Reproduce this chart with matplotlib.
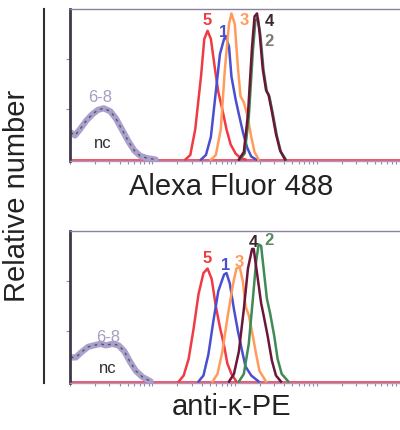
import matplotlib
matplotlib.use("Agg")
import matplotlib.pyplot as plt
from matplotlib.lines import Line2D
import numpy as np

plt.rcParams['font.family'] = ['Liberation Sans', 'DejaVu Sans']

# log10 fluorescence / relative number (fraction of panel height)
# --- Alexa Fluor 488 panel ---
a_red_x = [1.40, 1.46, 1.52, 1.59, 1.63, 1.67, 1.71, 1.76, 1.80, 1.85, 1.90, 1.95, 2.01, 2.07, 2.13]
a_red_y = [0, 0.03, 0.2, 0.55, 0.8, 0.855, 0.8, 0.6, 0.45, 0.33, 0.2, 0.1, 0.04, 0.01, 0]
a_blue_x = [1.59, 1.65, 1.71, 1.77, 1.82, 1.87, 1.89, 1.93, 1.96, 2.01, 2.05, 2.10, 2.15, 2.20, 2.26]
a_blue_y = [0, 0.03, 0.15, 0.45, 0.7, 0.8, 0.82, 0.75, 0.55, 0.4, 0.3, 0.18, 0.08, 0.02, 0]
a_orange_x = [1.71, 1.77, 1.83, 1.88, 1.93, 1.96, 2.00, 2.04, 2.07, 2.11, 2.15, 2.20, 2.24, 2.29]
a_orange_y = [0, 0.03, 0.2, 0.6, 0.9, 0.97, 0.9, 0.6, 0.42, 0.38, 0.3, 0.15, 0.05, 0]
a_maroon_x = [2.05, 2.11, 2.16, 2.21, 2.24, 2.27, 2.30, 2.34, 2.38, 2.41, 2.45, 2.50, 2.55, 2.61]
a_maroon_y = [0, 0.05, 0.3, 0.75, 0.95, 0.97, 0.85, 0.6, 0.46, 0.43, 0.32, 0.17, 0.06, 0]
a_green_x = [2.06, 2.12, 2.17, 2.22, 2.25, 2.28, 2.31, 2.35, 2.39, 2.42, 2.46, 2.51, 2.56, 2.62]
a_green_y = [0, 0.04, 0.28, 0.72, 0.92, 0.94, 0.83, 0.59, 0.45, 0.42, 0.31, 0.16, 0.05, 0]
a_nc_x = [0.01, 0.06, 0.12, 0.20, 0.27, 0.34, 0.41, 0.49, 0.56, 0.63, 0.71, 0.78, 0.85, 0.93, 1.04]
a_nc_y = [0.18, 0.16, 0.2, 0.26, 0.3, 0.33, 0.34, 0.32, 0.27, 0.2, 0.12, 0.06, 0.025, 0.01, 0]

# --- anti-kappa-PE panel ---
k_red_x = [1.32, 1.38, 1.44, 1.50, 1.56, 1.62, 1.67, 1.72, 1.77, 1.82, 1.87, 1.91, 1.96, 2.02]
k_red_y = [0, 0.04, 0.15, 0.35, 0.58, 0.72, 0.75, 0.68, 0.5, 0.36, 0.24, 0.12, 0.05, 0]
k_blue_x = [1.56, 1.62, 1.68, 1.74, 1.80, 1.87, 1.90, 1.94, 1.99, 2.04, 2.09, 2.13, 2.20, 2.29]
k_blue_y = [0, 0.04, 0.18, 0.4, 0.6, 0.71, 0.72, 0.65, 0.48, 0.33, 0.2, 0.1, 0.04, 0]
k_orange_x = [1.73, 1.79, 1.85, 1.91, 1.98, 2.02, 2.06, 2.10, 2.13, 2.17, 2.21, 2.26, 2.30, 2.38]
k_orange_y = [0, 0.05, 0.2, 0.42, 0.65, 0.75, 0.76, 0.66, 0.5, 0.44, 0.33, 0.18, 0.07, 0]
k_maroon_x = [1.93, 1.99, 2.05, 2.11, 2.16, 2.21, 2.23, 2.27, 2.32, 2.35, 2.40, 2.45, 2.50, 2.56]
k_maroon_y = [0, 0.05, 0.2, 0.48, 0.75, 0.88, 0.88, 0.72, 0.52, 0.44, 0.3, 0.14, 0.04, 0]
k_green_x = [2.05, 2.11, 2.17, 2.22, 2.26, 2.29, 2.32, 2.35, 2.39, 2.43, 2.48, 2.52, 2.57, 2.65]
k_green_y = [0, 0.05, 0.25, 0.55, 0.8, 0.91, 0.9, 0.75, 0.55, 0.45, 0.3, 0.15, 0.05, 0]
k_nc_x = [0.01, 0.07, 0.15, 0.22, 0.29, 0.37, 0.44, 0.51, 0.59, 0.66, 0.73, 0.80, 0.88, 0.98]
k_nc_y = [0.16, 0.16, 0.2, 0.23, 0.24, 0.25, 0.24, 0.25, 0.24, 0.2, 0.13, 0.07, 0.03, 0]

labels = ["5", "1", "3", "4", "2"]
a_lab_xy = [(1.67, 0.93), (1.87, 0.85), (2.11, 0.93), (2.42, 0.92), (2.42, 0.79)]
k_lab_xy = [(1.67, 0.82), (1.89, 0.78), (2.06, 0.80), (2.22, 0.93), (2.42, 0.94)]

red, blue, orange, maroon, green = '#f03a44', '#4a4fd0', '#ff9c5c', '#6a1838', '#3f8a55'
lav = '#aaa0cc'

fig = plt.figure(figsize=(4.0, 4.31), dpi=100)
ax1 = fig.add_axes([0.175, 0.624, 0.83, 0.353])
ax2 = fig.add_axes([0.175, 0.109, 0.83, 0.353])


def panel(ax, nc_x, nc_y, curves, lab_xy, lab_colors, nc_lab, xlabel, xlabel_y):
    # baseline runs across the whole axis
    ax.plot([0, 4.05], [0, 0], color=red, lw=1.2, zorder=1)
    ax.plot(nc_x, nc_y, color=lav, lw=4.5, solid_capstyle='round', zorder=2)
    ax.plot(nc_x, nc_y, color='#3a3040', lw=1.0, dashes=(2, 3), alpha=0.7, zorder=3)
    for (x, y, c) in curves:
        ax.plot(x, y, color=c, lw=1.8, zorder=4, solid_joinstyle='round')
    for t, (lx, ly), c in zip(labels, lab_xy, lab_colors):
        ax.text(lx, ly, t, color=c, fontsize=12, ha='center', va='center', fontweight='bold')
    ax.text(nc_lab[0][0], nc_lab[0][1], "6-8", color='#a89cc0', fontsize=12, ha='center', va='center')
    ax.text(nc_lab[1][0], nc_lab[1][1], "nc", color='#303030', fontsize=12, ha='center', va='center')
    ax.set_xlim(0, 4.03)
    ax.set_ylim(-0.01, 1.0)
    for s in ['right']:
        ax.spines[s].set_visible(False)
    ax.spines['left'].set_color('#403848')
    ax.spines['left'].set_linewidth(2.0)
    ax.spines['top'].set_color('#8a80a0')
    ax.spines['top'].set_linewidth(1.0)
    ax.spines['bottom'].set_color('#a898c8')
    ax.spines['bottom'].set_linewidth(1.0)
    ax.set_yticks([1 / 3, 2 / 3])
    ax.set_yticklabels([])
    ax.tick_params(axis='y', direction='out', length=3, color='#909090')
    minors = [d + np.log10(m) for d in range(4) for m in range(1, 10)] + [4]
    ax.set_xticks(minors)
    ax.set_xticklabels([])
    ax.tick_params(axis='x', direction='out', length=2, color='#9088a8')
    fig.text(0.578, xlabel_y, xlabel, fontsize=21, ha='center', va='center', color='#222222')


panel(ax1, a_nc_x, a_nc_y,
      [(a_red_x, a_red_y, red), (a_blue_x, a_blue_y, blue), (a_orange_x, a_orange_y, orange),
       (a_green_x, a_green_y, green), (a_maroon_x, a_maroon_y, maroon)],
      a_lab_xy, [red, blue, orange, '#3a2a30', '#7a7a70'],
      [(0.37, 0.42), (0.40, 0.11)], "Alexa Fluor 488", 1 - 187 / 431)
panel(ax2, k_nc_x, k_nc_y,
      [(k_red_x, k_red_y, red), (k_blue_x, k_blue_y, blue), (k_orange_x, k_orange_y, orange),
       (k_green_x, k_green_y, green), (k_maroon_x, k_maroon_y, maroon)],
      k_lab_xy, [red, blue, orange, '#3a2a30', '#5a8a60'],
      [(0.46, 0.30), (0.46, 0.09)], "anti-\u03ba-PE", 1 - 407 / 431)

fig.add_artist(Line2D([44 / 400, 44 / 400], [1 - 10 / 431, 1 - 384 / 431], color='#303030', lw=1.5))
fig.text(17 / 400, 1 - 196 / 431, "Relative number", rotation=90, fontsize=21,
         ha='center', va='center', color='#222222')

fig.savefig("out.png", dpi=100)
